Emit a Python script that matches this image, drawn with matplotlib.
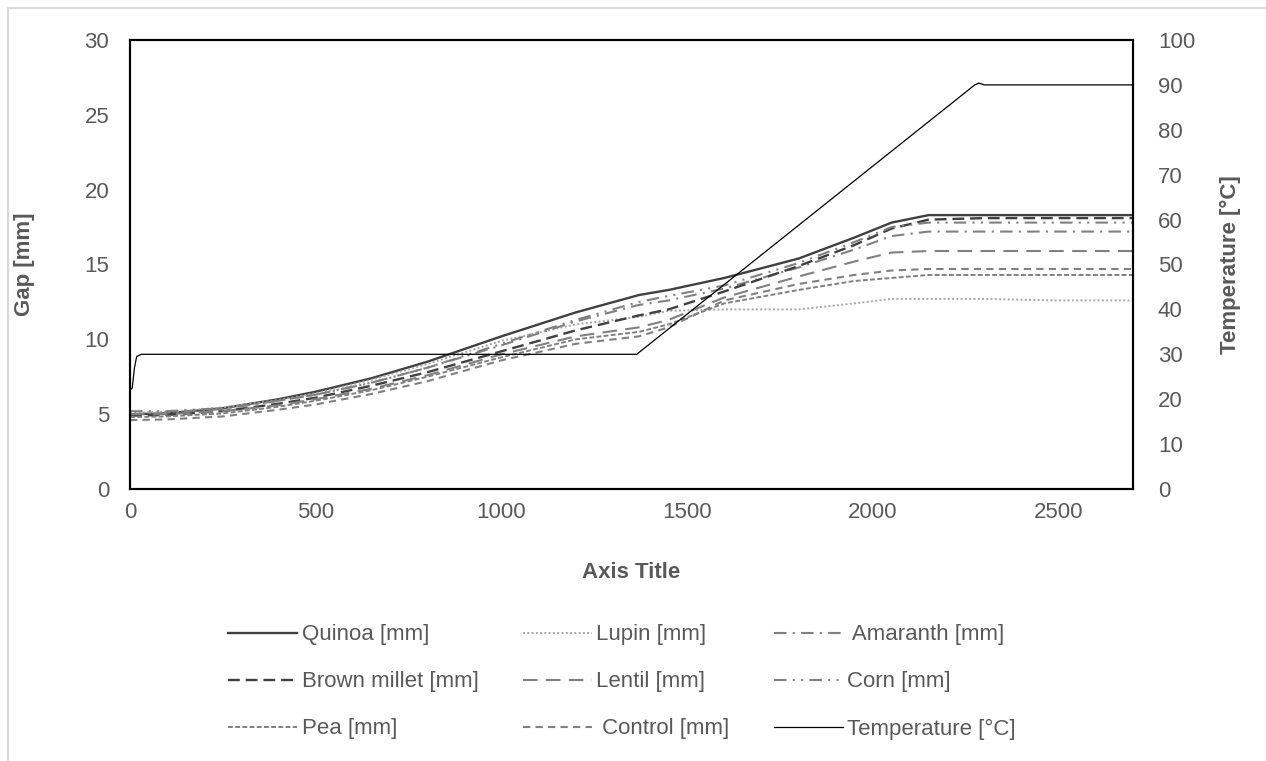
#!/usr/bin/env python3
"""Gap of seed-filled samples vs time, with the heating profile on a second axis."""

import matplotlib

matplotlib.use("Agg")
import matplotlib.pyplot as plt  # noqa: E402
from matplotlib.lines import Line2D  # noqa: E402

plt.rcParams["font.family"] = ["Liberation Sans", "DejaVu Sans"]

time_s = [0, 100, 250, 400, 500, 650, 800, 1000, 1200, 1370, 1450, 1600, 1800, 1950, 2050, 2150, 2300, 2500, 2700]

quinoa = [5.0, 5.05, 5.4, 6.0, 6.5, 7.4, 8.5, 10.2, 11.8, 12.96, 13.3, 14.1, 15.4, 16.8, 17.8, 18.3, 18.3, 18.3, 18.3]
lupin = [5.1, 5.15, 5.45, 5.95, 6.4, 7.3, 8.35, 9.9, 11.0, 11.5, 11.9, 12.0, 12.0, 12.4, 12.7, 12.7, 12.7, 12.6, 12.6]
amaranth = [5.0, 5.05, 5.35, 5.9, 6.3, 7.1, 8.1, 9.6, 11.2, 12.3, 12.6, 13.4, 14.8, 16.0, 16.9, 17.2, 17.2, 17.2, 17.2]
brown_millet = [4.9, 4.95, 5.2, 5.7, 6.1, 6.9, 7.8, 9.2, 10.6, 11.6, 12.0, 13.2, 14.9, 16.3, 17.4, 18.0, 18.1, 18.1, 18.1]
lentil = [5.0, 5.0, 5.2, 5.6, 6.0, 6.7, 7.6, 9.0, 10.2, 10.8, 11.3, 12.8, 14.2, 15.2, 15.8, 15.9, 15.9, 15.9, 15.9]
corn = [5.2, 5.2, 5.4, 5.9, 6.3, 7.1, 8.1, 9.7, 11.3, 12.5, 12.9, 13.6, 15.1, 16.5, 17.5, 17.8, 17.8, 17.8, 17.8]
pea = [4.8, 4.85, 5.05, 5.5, 5.9, 6.6, 7.5, 8.8, 10.0, 10.5, 11.0, 12.4, 13.3, 13.9, 14.1, 14.3, 14.3, 14.3, 14.3]
control = [4.6, 4.65, 4.85, 5.3, 5.65, 6.35, 7.2, 8.6, 9.7, 10.2, 10.8, 12.6, 13.7, 14.3, 14.6, 14.7, 14.7, 14.7, 14.7]

temp_time_s = [0, 6, 12, 18, 30, 1364, 2274, 2285, 2300, 2700]
temperature = [22.0, 22.5, 27.0, 29.5, 30.0, 30.0, 90.0, 90.4, 90.0, 90.0]

TXT = "#595959"
FS = 16

series = [
    ("Quinoa [mm]", quinoa, dict(color="#404040", lw=1.7, ls="-")),
    ("Lupin [mm]", lupin, dict(color="#a6a6a6", lw=1.4, dashes=(1, 1.2))),
    (" Amaranth [mm]", amaranth, dict(color="#808080", lw=1.5, dashes=(6, 3, 1, 3))),
    ("Brown millet [mm]", brown_millet, dict(color="#404040", lw=1.7, dashes=(5, 2.5))),
    ("Lentil [mm]", lentil, dict(color="#808080", lw=1.5, dashes=(7, 4))),
    ("Corn [mm]", corn, dict(color="#808080", lw=1.5, dashes=(6, 3, 1, 3, 1, 3))),
    ("Pea [mm]", pea, dict(color="#808080", lw=1.4, dashes=(2.5, 1.2))),
    (" Control [mm]", control, dict(color="#808080", lw=1.5, dashes=(3.5, 2.5))),
]

fig = plt.figure(figsize=(12.66, 7.61), dpi=100)
ax = fig.add_axes([130 / 1266, 1 - 489 / 761, 1003 / 1266, 449 / 761])
ax2 = ax.twinx()

handles = {}
for label, values, style in series:
    (line,) = ax.plot(time_s, values, label=label, **style)
    handles[label] = line
(tline,) = ax2.plot(temp_time_s, temperature, color="black", lw=0.9, label="Temperature [°C]")
handles["Temperature [°C]"] = tline

ax.set_xlim(0, 2700)
ax.set_ylim(0, 30)
ax2.set_ylim(0, 100)
ax.set_xticks(range(0, 2501, 500))
ax.set_yticks(range(0, 31, 5))
ax2.set_yticks(range(0, 101, 10))

for a in (ax, ax2):
    for sp in a.spines.values():
        sp.set_color("black")
        sp.set_linewidth(1.5)
ax.tick_params(axis="y", length=0, pad=15, labelsize=FS, labelcolor=TXT)
ax.tick_params(axis="x", length=0, pad=9, labelsize=FS, labelcolor=TXT)
ax2.tick_params(axis="y", length=0, pad=18, labelsize=FS, labelcolor=TXT)

ax.set_xlabel("Axis Title", fontsize=FS, fontweight="bold", color=TXT)
ax.set_ylabel("Gap [mm]", fontsize=FS, fontweight="bold", color=TXT)
ax2.set_ylabel("Temperature [°C]", fontsize=FS, fontweight="bold", color=TXT)
ax.xaxis.set_label_coords(0.5, -0.163)
ax.yaxis.set_label_coords(-0.095, 0.5)
ax2.yaxis.set_label_coords(1.087, 0.5)

# legend filled column by column, so order is transposed from the 3x3 grid
order = [
    "Quinoa [mm]", "Brown millet [mm]", "Pea [mm]",
    "Lupin [mm]", "Lentil [mm]", " Control [mm]",
    " Amaranth [mm]", "Corn [mm]", "Temperature [°C]",
]
leg = fig.legend(
    [handles[k] for k in order],
    order,
    loc="center",
    bbox_to_anchor=(622 / 1266, 1 - 682 / 761),
    ncols=3,
    frameon=False,
    fontsize=FS,
    handlelength=3.1,
    handletextpad=0.2,
    columnspacing=2.0,
    labelspacing=1.17,
)
for t in leg.get_texts():
    t.set_color(TXT)

# chart area border (only top and left visible in the crop)
fig.add_artist(Line2D([8 / 1266, 1], [1 - 8 / 761, 1 - 8 / 761], color="#d9d9d9", lw=1.5))
fig.add_artist(Line2D([8 / 1266, 8 / 1266], [0, 1 - 8 / 761], color="#d9d9d9", lw=1.5))

fig.savefig("out.png", dpi=100)
